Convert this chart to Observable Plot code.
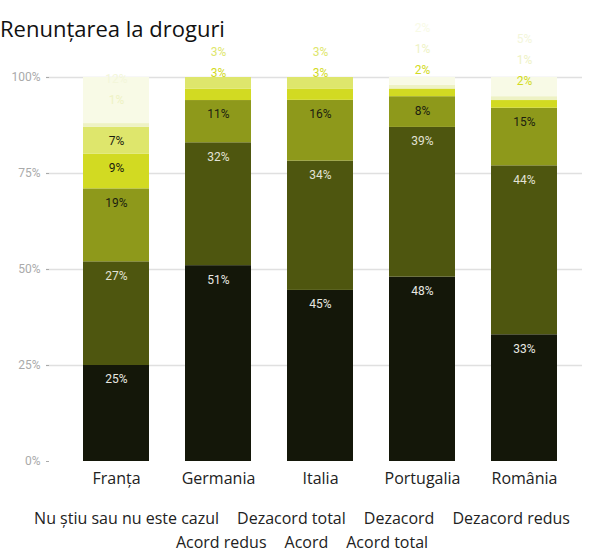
<!DOCTYPE html>
<html>
<head>
<meta charset="utf-8">
<script src="https://cdn.jsdelivr.net/npm/d3@7"></script>
<script src="https://cdn.jsdelivr.net/npm/@observablehq/plot@0.6"></script>
<style>
  body { margin: 0; background: #fff; }
  #wrap { position: relative; width: 593px; }
  #title { position: absolute; left: 0; top: 13px; font-family: "Open Sans", sans-serif; font-size: 22px; line-height: 30px; color: #111; }
  #legend { width: 582px; margin-left: 11px; padding-top: 15px; display: flex; flex-wrap: wrap; justify-content: center; column-gap: 18px; font-family: "Open Sans", sans-serif; font-size: 16px; line-height: 24px; color: #222; }
</style>
</head>
<body>
<div id="wrap">
  <div id="chart"></div>
  <div id="title">Renunțarea la droguri</div>
  <div id="legend"></div>
</div>
<script>
const countries = ["Franța", "Germania", "Italia", "Portugalia", "România"];
const categories = ["Acord total", "Acord", "Acord redus", "Dezacord redus", "Dezacord", "Dezacord total", "Nu știu sau nu este cazul"];
const colors = ["#141709", "#4e560f", "#8e991b", "#d2da22", "#dee66c", "#eef2c4", "#f8fae6"];
const labelColors = ["#e8e8e2", "#e2e2d6", "#1c1d10", "#1c1d10", "#1c1d10", "#eef2c4", "#f3f6da"];

const acordTotal    = [25, 51, 45, 48, 33];
const acord         = [27, 32, 34, 39, 44];
const acordRedus    = [19, 11, 16,  8, 15];
const dezacordRedus = [ 9,  3,  3,  2,  2];
const dezacord      = [ 7,  3,  3,  0,  0];
const dezacordTotal = [ 1,  0,  0,  1,  1];
const nuStiu        = [12,  0,  0,  2,  5];
const series = [acordTotal, acord, acordRedus, dezacordRedus, dezacord, dezacordTotal, nuStiu];

const yTicks = [0, 25, 50, 75, 100];

const W = 593, H = 491, mL = 64, mR = 17, mT = 77, mB = 30;
const pxPer = (H - mT - mB) / 100;

const rows = [];
const labels = [];
countries.forEach((c, i) => {
  const sum = d3.sum(series, s => s[i]);
  let cum = 0;
  let prev = Infinity, prevSmall = false;
  categories.forEach((cat, j) => {
    const v = series[j][i];
    const share = v / sum * 100;
    const y2 = cum + share;
    rows.push({country: c, cat, v, share, fill: colors[j]});
    if (v > 0) {
      const topPx = mT + (100 - y2) * pxPer;
      const desired = topPx + 14;
      const small = v < 4;
      let ly;
      if (small) ly = prev - (prevSmall ? 21 : 41);
      else ly = Math.min(desired, prev - 21);
      prev = ly; prevSmall = small;
      labels.push({country: c, v, y: 100 - (ly - mT) / pxPer, color: small ? colors[j] : labelColors[j]});
    }
    cum = y2;
  });
});

const chart = Plot.plot({
  width: W, height: H,
  marginLeft: mL, marginRight: mR, marginTop: mT, marginBottom: mB,
  style: {fontFamily: "Roboto, sans-serif", background: "transparent"},
  x: {domain: countries, paddingInner: 0.356, paddingOuter: 0.178, label: null},
  y: {domain: [0, 100], label: null},
  color: {type: "identity"},
  marks: [
    Plot.ruleY(yTicks.filter(d => d > 0), {stroke: "#e0e0e0", strokeWidth: 1.5, insetLeft: -18, insetRight: -6}),
    Plot.axisY(yTicks, {tickFormat: d => d + "%", tickSize: 3, tickPadding: 6, dx: -15, color: "#aaaaaa", fontSize: 12, fontFamily: "Roboto, sans-serif", label: null}),
    Plot.axisX({tickSize: 0, tickPadding: 11, fontSize: 16, fontFamily: "Open Sans, sans-serif", color: "#222", label: null}),
    Plot.barY(rows, {x: "country", y: "share", fill: "fill"}),
    Plot.text(labels, {x: "country", y: "y", text: d => d.v + "%", fill: "color", fontSize: 12, fontFamily: "Roboto, sans-serif"})
  ]
});
document.getElementById("chart").appendChild(chart);

const legend = document.getElementById("legend");
categories.slice().reverse().forEach(cat => {
  const s = document.createElement("span");
  s.textContent = cat;
  legend.appendChild(s);
});
</script>
</body>
</html>
